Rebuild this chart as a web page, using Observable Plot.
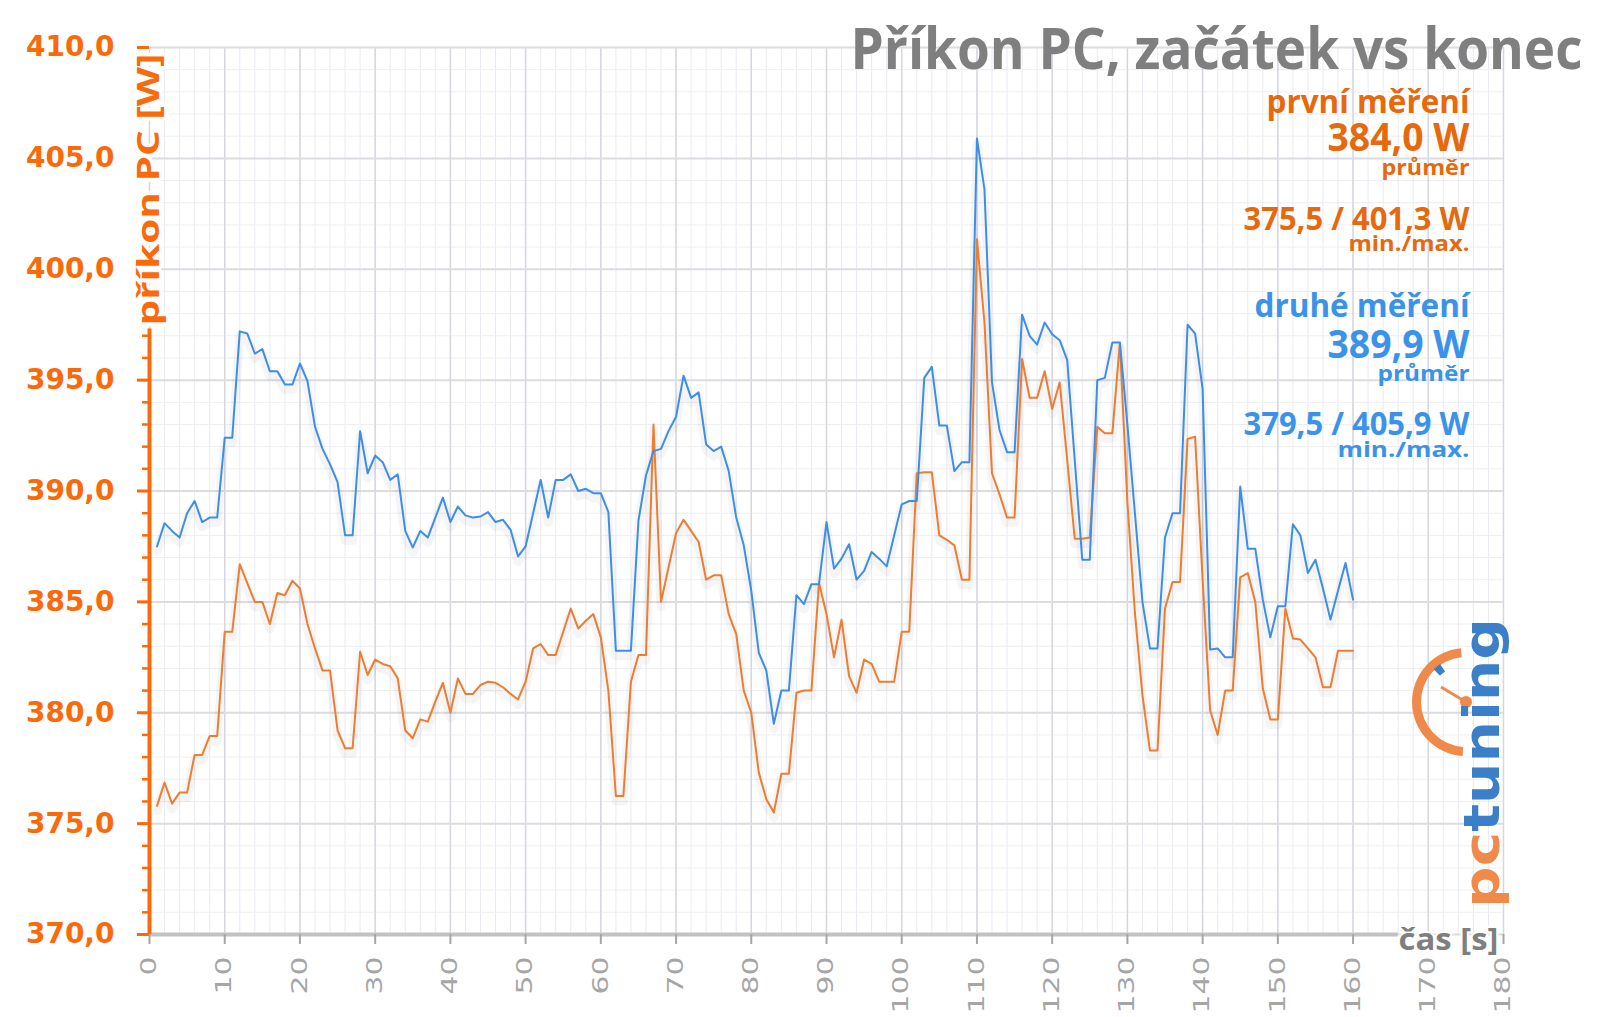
<!DOCTYPE html>
<html>
<head>
<meta charset="utf-8">
<script src="https://cdn.jsdelivr.net/npm/d3@7"></script>
<script src="https://cdn.jsdelivr.net/npm/@observablehq/plot@0.6"></script>
<style>
  html, body { margin: 0; padding: 0; background: #fff; }
  #chart svg { display: block; }
</style>
</head>
<body>
<div id="chart"></div>
<script>
// ---- data ----
const cas = Array.from({length: 160}, (_, i) => i + 1); // time [s]

const prvni = [
  375.8, 376.85, 375.9, 376.4, 376.4, 378.1, 378.1, 378.95, 378.95, 383.65,
  383.65, 386.7, 385.85, 385.0, 385.0, 384.0, 385.4, 385.3, 385.95, 385.6,
  384.0, 382.9, 381.9, 381.9, 379.2, 378.4, 378.4, 382.75, 381.7, 382.4,
  382.2, 382.1, 381.55, 379.2, 378.85, 379.7, 379.6, 380.5, 381.35, 380.0,
  381.55, 380.85, 380.85, 381.25, 381.4, 381.35, 381.15, 380.85, 380.6, 381.4,
  382.9, 383.1, 382.6, 382.6, 383.65, 384.7, 383.8, 384.15, 384.45, 383.4,
  381.0, 376.25, 376.25, 381.4, 382.6, 382.6, 393.0, 385.0, 386.55, 388.1,
  388.7, 388.2, 387.7, 386.0, 386.2, 386.2, 384.45, 383.55, 381.0, 380.0,
  377.3, 376.1, 375.5, 377.25, 377.25, 380.9, 381.0, 381.0, 385.85, 384.45,
  382.5, 384.2, 381.65, 380.9, 382.4, 382.2, 381.4, 381.4, 381.4, 383.65,
  383.65, 390.8, 390.85, 390.85, 388.0, 387.8, 387.55, 386.0, 386.0, 401.35,
  397.6, 390.8, 389.85, 388.8, 388.8, 395.95, 394.2, 394.2, 395.4, 393.7,
  394.9, 391.4, 387.85, 387.85, 387.9, 392.9, 392.6, 392.6, 396.7, 389.5,
  384.5, 380.8, 378.3, 378.3, 384.7, 385.9, 385.9, 392.35, 392.45, 386.0,
  380.1, 379.0, 381.0, 381.0, 386.1, 386.3, 385.0, 381.1, 379.7, 379.7,
  384.7, 383.35, 383.3, 382.9, 382.5, 381.15, 381.15, 382.8, 382.8, 382.8
];

const druhe = [
  387.5, 388.55, 388.2, 387.9, 389.0, 389.55, 388.6, 388.8, 388.8, 392.4,
  392.4, 397.2, 397.1, 396.2, 396.4, 395.4, 395.4, 394.8, 394.8, 395.75,
  394.95, 392.9, 391.9, 391.2, 390.4, 388.0, 388.0, 392.7, 390.8, 391.6,
  391.3, 390.5, 390.75, 388.2, 387.45, 388.2, 387.9, 388.8, 389.7, 388.6,
  389.3, 388.9, 388.8, 388.85, 389.05, 388.6, 388.7, 388.25, 387.05, 387.5,
  389.0, 390.5, 388.8, 390.5, 390.5, 390.75, 390.0, 390.1, 389.9, 389.9,
  389.05, 382.8, 382.8, 382.8, 388.65, 390.7, 391.8, 391.9, 392.7, 393.35,
  395.2, 394.2, 394.45, 392.1, 391.8, 392.0, 390.9, 388.8, 387.55, 385.5,
  382.7, 381.9, 379.5, 381.0, 381.0, 385.3, 384.9, 385.8, 385.8, 388.6,
  386.5, 386.95, 387.6, 386.0, 386.4, 387.25, 386.95, 386.6, 388.0, 389.4,
  389.55, 389.55, 395.1, 395.6, 392.95, 392.95, 390.9, 391.3, 391.3, 405.9,
  403.6, 394.9, 392.75, 391.75, 391.75, 397.95, 397.0, 396.6, 397.6, 397.07,
  396.8, 395.9, 391.4, 386.9, 386.9, 395.0, 395.1, 396.7, 396.7, 393.0,
  389.0, 385.0, 382.9, 382.9, 387.9, 389.0, 389.0, 397.5, 397.1, 394.6,
  382.85, 382.9, 382.5, 382.5, 390.2, 387.4, 387.4, 385.1, 383.4, 384.8,
  384.8, 388.5, 388.0, 386.3, 386.9, 385.6, 384.2, 385.5, 386.75, 385.1
];

const xTicks = [0, 10, 20, 30, 40, 50, 60, 70, 80, 90, 100, 110, 120, 130, 140, 150, 160, 170, 180];
const yTicks = [370, 375, 380, 385, 390, 395, 400, 405, 410];
const xMinor = d3.range(0, 181, 2);
const yMinor = d3.range(370, 411, 1);

const title = "Příkon PC, začátek vs konec";
const yLabel = "příkon PC [W]";
const xLabel = "čas [s]";

const rows = cas.map((t, i) => ({cas: t, prvni: prvni[i], druhe: druhe[i]}));

// ---- styles ----
const lineOrange = "#ed7d31";
const lineBlue = "#3d8fe6";
const axisOrange = "#fa6a0a";
const txtOrange = "#e6690d";
const txtBlue = "#3a93e8";
const gray = "#7f7f7f";

const fmt = d => d.toFixed(1).replace(".", ",");

// annotation block: [text, fontSize, baseline offset from top, color, fitted width]
const notes = [
  ["první měření", 32, 65, txtOrange, 203],
  ["384,0 W", 39, 103, txtOrange, 142],
  ["průměr", 22, 127, txtOrange, 88],
  ["375,5 / 401,3 W", 32, 182, txtOrange, 226],
  ["min./max.", 22, 203, txtOrange, 121],
  ["druhé měření", 32, 269, txtBlue, 215],
  ["389,9 W", 39, 310, txtBlue, 142],
  ["průměr", 22, 333, txtBlue, 92],
  ["379,5 / 405,9 W", 32, 387, txtBlue, 226],
  ["min./max.", 22, 409, txtBlue, 132]
];

const noteMarks = notes.map(([t, fs, dy, c]) =>
  Plot.text([t], {
    frameAnchor: "top-right", dx: -34, dy, text: d => d,
    textAnchor: "end", lineAnchor: "bottom",
    fontSize: fs, fontWeight: "bold", fontFamily: "Open Sans", fill: c
  })
);

const chart = Plot.plot({
  width: 1600,
  height: 1017,
  marginLeft: 149,
  marginRight: 97,
  marginTop: 47,
  marginBottom: 83,
  x: {domain: [0, 180]},
  y: {domain: [370, 410]},
  style: {background: "#fff", fontFamily: "DejaVu Sans", overflow: "visible"},
  marks: [
    Plot.gridX(xMinor, {stroke: "#eaeaf2", strokeOpacity: 1, strokeWidth: 1}),
    Plot.gridY(yMinor, {stroke: "#eeeef2", strokeOpacity: 1, strokeWidth: 1}),
    Plot.gridX(xTicks, {stroke: "#d6d6e2", strokeOpacity: 1, strokeWidth: 1.5}),
    Plot.gridY(yTicks, {stroke: "#dcdce2", strokeOpacity: 1, strokeWidth: 2}),
    // soft shadows
    Plot.line(rows, {x: "cas", y: "prvni", stroke: "#000", strokeOpacity: 0.04, strokeWidth: 9, dy: 5}),
    Plot.line(rows, {x: "cas", y: "druhe", stroke: "#000", strokeOpacity: 0.04, strokeWidth: 9, dy: 5}),
    Plot.line(rows, {x: "cas", y: "prvni", stroke: lineOrange, strokeWidth: 2}),
    Plot.line(rows, {x: "cas", y: "druhe", stroke: lineBlue, strokeWidth: 2}),
    // x axis
    Plot.ruleY([370], {x1: 0, x2: 166, stroke: "#c2c2c2", strokeWidth: 4}),
    Plot.axisX({ticks: xTicks, tickSize: 10, tickPadding: 12, tickRotate: -90, fontSize: 21,
                color: "#a6a6a6", strokeWidth: 2, label: null}),
    // y axis
    Plot.axisY({ticks: yTicks, tickSize: 0, tickPadding: 35, tickFormat: fmt, fontSize: 28,
                fontWeight: "bold", color: axisOrange, label: null}),
    Plot.axisY({ticks: yTicks.filter(v => v <= 397 || v === 410), tickSize: 12, tickFormat: () => "",
                color: axisOrange, strokeWidth: 3, label: null}),
    Plot.axisY({ticks: yMinor.filter(v => v % 5 !== 0 && v <= 397), tickSize: 7, tickFormat: () => "",
                color: axisOrange, strokeWidth: 2.5, label: null}),
    Plot.ruleX([0], {y1: 370, y2: 397.3, stroke: axisOrange, strokeWidth: 4}),
    Plot.text([yLabel], {frameAnchor: "top-left", dy: 6, rotate: -90, text: d => d,
                textAnchor: "end", lineAnchor: "middle", fontSize: 31, fontWeight: "bold",
                fontFamily: "Open Sans", fill: axisOrange, stroke: "#fff", strokeWidth: 6,
                paintOrder: "stroke"}),
    Plot.text([xLabel], {frameAnchor: "bottom-right", dx: -5, dy: 15, text: d => d,
                textAnchor: "end", lineAnchor: "bottom", fontSize: 31, fontWeight: "bold",
                fontFamily: "Open Sans", fill: gray, stroke: "#fff", strokeWidth: 4, paintOrder: "stroke"}),
    // title and annotations
    Plot.text([title], {frameAnchor: "top-right", dx: 79, dy: 21, text: d => d,
                textAnchor: "end", lineAnchor: "bottom", fontSize: 57, fontWeight: "bold",
                fontFamily: "Open Sans", fill: gray}),
    ...noteMarks
  ]
});

document.getElementById("chart").appendChild(chart);

// ---- fit condensed text widths ----
const svg = d3.select(chart);
const fitList = [
  [title, null, 732],
  [yLabel, null, 272],
  [xLabel, null, 100],
  ...notes.map(([t, , , c, w]) => [t, c, w])
];
svg.selectAll("text").each(function () {
  const t = this.textContent;
  const fill = (this.getAttribute("fill") || (this.parentNode && this.parentNode.getAttribute("fill")) || "").toLowerCase();
  for (const [s, c, w] of fitList) {
    if (t === s && (c === null || c.toLowerCase() === fill)) {
      d3.select(this).attr("textLength", w).attr("lengthAdjust", "spacingAndGlyphs");
    }
  }
});
// stretched x tick labels
svg.selectAll('g[aria-label="x-axis tick label"] text').each(function () {
  const n = this.textContent.length;
  d3.select(this).attr("textLength", 19 * n).attr("lengthAdjust", "spacingAndGlyphs");
});

// ---- pctuning logo ----
const logo = svg.append("g").attr("aria-label", "logo");
const cx = 1466, cy = 702;
logo.append("path")
  .attr("transform", `translate(${cx},${cy})`)
  .attr("d", d3.arc()({innerRadius: 45, outerRadius: 54, startAngle: -Math.PI * 0.98, endAngle: -Math.PI * 0.03}))
  .attr("fill", "#f08a4b");
logo.append("path")
  .attr("transform", `translate(${cx},${cy})`)
  .attr("d", d3.arc()({innerRadius: 37, outerRadius: 46, startAngle: -0.78, endAngle: -0.6}))
  .attr("fill", "#3a7fc8");
logo.append("line")
  .attr("x1", cx).attr("y1", cy).attr("x2", cx - 25).attr("y2", cy - 15)
  .attr("stroke", "#f08a4b").attr("stroke-width", 3);
logo.append("circle").attr("cx", cx).attr("cy", cy).attr("r", 6).attr("fill", "#f08a4b");
const lt = logo.append("text")
  .attr("transform", "translate(1499,908) rotate(-90)")
  .attr("text-anchor", "start")
  .attr("font-family", "DejaVu Sans")
  .attr("font-weight", "bold")
  .attr("font-size", 50)
  .attr("textLength", 290)
  .attr("lengthAdjust", "spacingAndGlyphs");
lt.append("tspan").attr("fill", "#f08a4b").text("pc");
lt.append("tspan").attr("fill", "#3a7fc8").text("tuning");
</script>
</body>
</html>
